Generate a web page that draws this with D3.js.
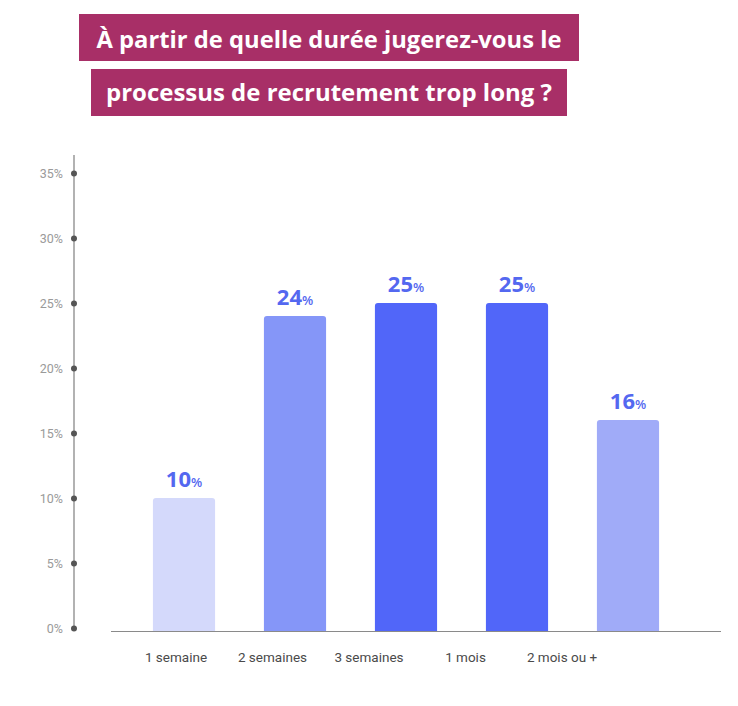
<!DOCTYPE html>
<html><head><meta charset="utf-8">
<script src="https://cdn.jsdelivr.net/npm/d3@7"></script>
<style>body{margin:0;background:#fff}svg{display:block}</style>
</head><body>
<svg id="c" width="738" height="706"></svg>
<script>
const titleLines = ["À partir de quelle durée jugerez-vous le", "processus de recrutement trop long ?"];
const categories = ["1 semaine", "2 semaines", "3 semaines", "1 mois", "2 mois ou +"];
const values = [10, 24, 25, 25, 16];
const barColors = ["#D4D9FB", "#8596F8", "#5166F9", "#5166F9", "#A0ABF8"];
const yTicks = [0, 5, 10, 15, 20, 25, 30, 35];

const svg = d3.select("#c");

// Title boxes
const boxes = [
  {x0: 79, x1: 579, y0: 14, y1: 61, base: 48, tw: 465},
  {x0: 91, x1: 567, y0: 69, y1: 116, base: 101, tw: 446}
];
titleLines.forEach((t, i) => {
  const b = boxes[i];
  svg.append("rect").attr("x", b.x0).attr("y", b.y0).attr("width", b.x1 - b.x0).attr("height", b.y1 - b.y0).attr("fill", "#A82F67");
  const txt = svg.append("text").attr("x", (b.x0 + b.x1) / 2).attr("y", b.base)
    .attr("text-anchor", "middle").attr("fill", "#fff")
    .style("font-family", "'Open Sans', sans-serif").style("font-weight", 700).style("font-size", "24px").text(t);
  const w = txt.node().getComputedTextLength();
  txt.style("font-size", (24 * b.tw / w).toFixed(2) + "px");
});

const y = d3.scaleLinear().domain([0, 35]).range([628, 173]);
const x = d3.scaleBand().domain(categories).range([128.5, 683.5]).paddingInner(0.44).paddingOuter(0.22);
const xLab = d3.scalePoint().domain(categories).range([176, 562]);

// Y axis
const yAxis = svg.append("g").attr("transform", "translate(74,0)")
  .call(d3.axisLeft(y).tickValues(yTicks).tickSize(0).tickPadding(11).tickFormat(d => d + "%"));
yAxis.select(".domain").attr("d", `M0,155V628`).attr("stroke", "#999").attr("stroke-width", 1.5);
yAxis.selectAll(".tick text").attr("fill", "#9a9a9a").style("font-family", "Roboto, sans-serif").style("font-size", "12.5px");
yAxis.selectAll(".tick").append("circle").attr("r", 3).attr("fill", "#555");

// Bars with rounded top
const r = 3;
svg.append("g").selectAll("path").data(values).join("path")
  .attr("fill", (d, i) => barColors[i])
  .attr("d", (d, i) => {
    const x0 = x(categories[i]), w = x.bandwidth(), yt = y(d), yb = 631;
    return `M${x0},${yb}V${yt + r}Q${x0},${yt} ${x0 + r},${yt}H${x0 + w - r}Q${x0 + w},${yt} ${x0 + w},${yt + r}V${yb}Z`;
  });

// Baseline
svg.append("line").attr("x1", 111).attr("x2", 721).attr("y1", 631.5).attr("y2", 631.5).attr("stroke", "#8a8a8a").attr("stroke-width", 1.2);

// Value labels
const lab = svg.append("g").selectAll("text").data(values).join("text")
  .attr("x", (d, i) => x(categories[i]) + x.bandwidth() / 2)
  .attr("y", d => y(d) - 11)
  .attr("text-anchor", "middle").attr("fill", "#5468F0")
  .style("font-family", "'Open Sans', sans-serif").style("font-weight", 700);
lab.append("tspan").style("font-size", "22px").text(d => d);
lab.append("tspan").style("font-size", "13px").style("font-weight", 600).text("%");

// X labels
svg.append("g").selectAll("text").data(categories).join("text")
  .attr("x", d => xLab(d)).attr("y", 662)
  .attr("text-anchor", "middle").attr("fill", "#4a4a4a")
  .style("font-family", "Roboto, sans-serif").style("font-size", "13.5px").text(d => d);
</script>
</body></html>
